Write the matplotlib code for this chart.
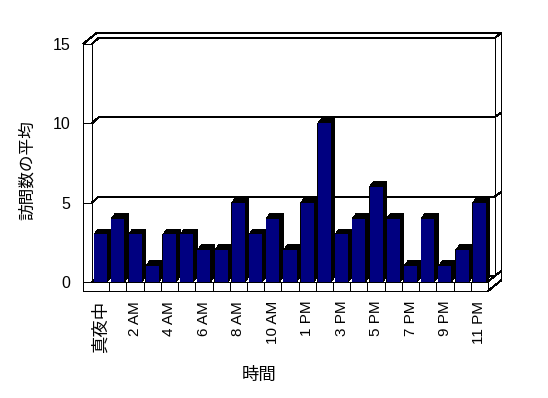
import matplotlib
matplotlib.use('Agg')
import matplotlib.pyplot as plt
from matplotlib.patches import Polygon

plt.rcParams['font.family'] = ['Liberation Sans', 'Noto Sans CJK JP']

# data
hours = ['真夜中', '1 AM', '2 AM', '3 AM', '4 AM', '5 AM', '6 AM', '7 AM', '8 AM',
         '9 AM', '10 AM', '11 AM', '1 PM', '2 PM', '3 PM', '4 PM', '5 PM', '6 PM',
         '7 PM', '8 PM', '9 PM', '10 PM', '11 PM']
visits = [3, 4, 3, 1, 3, 3, 2, 2, 5, 3, 4, 2, 5, 10, 3, 4, 6, 4, 1, 4, 1, 2, 5]
y_ticks = [0, 5, 10, 15]
x_title = '時間'
y_title = '訪問数の平均'

W, H = 548, 398
fig = plt.figure(figsize=(W / 100, H / 100), dpi=100)

# front plane of the 3d box, in pixels
left_px, right_px, base_px, top_px = 92, 488, 282, 44
ax = fig.add_axes([left_px / W, 1 - base_px / H,
                   (right_px - left_px) / W, (base_px - top_px) / H])
n = len(hours)
ymax = y_ticks[-1]
xL, xR = -0.5, n - 0.5
ax.set_xlim(xL, xR)
ax.set_ylim(0, ymax)

# pixel -> data conversions for the fake 3d offsets
px_x = n / (right_px - left_px)
px_y = ymax / (base_px - top_px)
dx, dy = 6.5 * px_x, 6 * px_y     # depth of the box
tx, ty = 7 * px_x, 5 * px_y       # wall thickness
wl = 9 * px_x                     # left wall thickness
ft = 9 * px_y                     # floor thickness
bx, by = 4 * px_x, 5.3 * px_y     # bar depth


def seg(xs, ys, z=1):
    ax.plot(xs, ys, color='black', lw=0.72, clip_on=False,
            antialiased=False, solid_capstyle='butt', zorder=z)


# back wall gridlines (wrap around left wall and the wall's right end)
for v in y_ticks:
    seg([xL, xL + dx, xR + dx, xR + dx + tx], [v, v + dy, v + dy, v + dy + ty])

# right end of back wall / floor
seg([xR + dx, xR + dx], [dy, ymax + dy])
seg([xR + dx + tx, xR + dx + tx, xR], [ymax + dy + ty, dy + ty - ft, -ft])
seg([xR, xR + dx], [0, dy])

# outer top edge of the walls
seg([xL - wl, xL - wl + dx + tx, xR + dx + tx], [ymax, ymax + dy + ty, ymax + dy + ty])

# left wall front face
seg([xL - wl, xL - wl], [ymax, -ft])
seg([xL, xL], [ymax, 0])
for v in y_ticks:
    seg([xL - wl, xL], [v, v])

# floor front face with category dividers
seg([xL - wl, xR], [-ft, -ft])
seg([xL, xR], [0, 0])
seg([xR, xR], [-ft, 0])
for k in range(1, n):
    seg([k - 0.5, k - 0.5], [-ft, 0])

# bars: black top/side, navy front
bw = 0.76
for i, v in enumerate(visits):
    x0, x1 = i - bw / 2, i + bw / 2
    ax.add_patch(Polygon([(x0, 0), (x1, 0), (x1 + bx, by), (x1 + bx, v + by),
                          (x0 + bx, v + by), (x0, v)],
                         closed=True, fc='black', ec='none', zorder=3,
                         clip_on=False, antialiased=False))
ax.bar(range(n), visits, width=bw, color='#000080', zorder=4, antialiased=False)

for s in ax.spines.values():
    s.set_visible(False)
ax.set_yticks(y_ticks)
ax.set_yticklabels([str(t) for t in y_ticks], fontsize=11.5)
ax.set_xticks(range(0, n, 2))
ax.set_xticklabels(hours[::2], rotation=90, fontsize=11, va='top', ha='center')
ax.get_xticklabels()[0].set_fontsize(12.5)
ax.tick_params(axis='y', length=0, pad=15.8)
ax.tick_params(axis='x', length=0, pad=13.5)
ax.patch.set_visible(False)

fig.text(27.5 / W, 1 - 170 / H, y_title, rotation=90, fontsize=12,
         ha='center', va='center')
fig.text(259 / W, 1 - 375 / H, x_title, fontsize=12.5, ha='center', va='center')

fig.savefig('out.png', dpi=100)
